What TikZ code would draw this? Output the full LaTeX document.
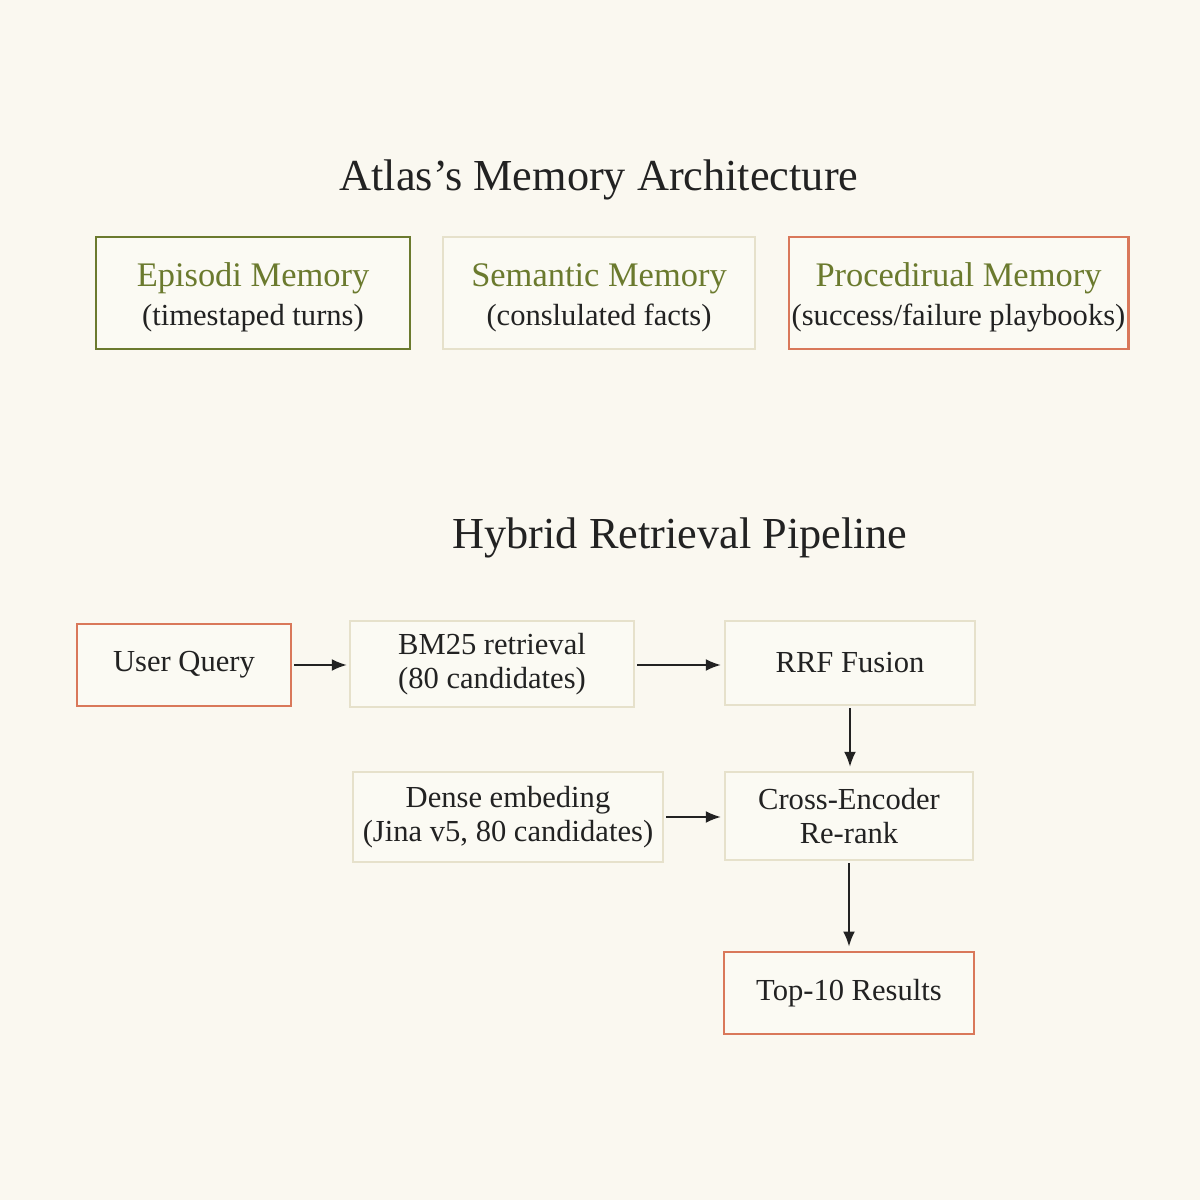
\documentclass[tikz,border=0pt]{standalone}
\usepackage{fontspec}
\setmainfont{Liberation Serif}
\usetikzlibrary{arrows.meta, positioning}
\definecolor{paper}{HTML}{FAF8F0}
\definecolor{boxfill}{HTML}{FBFAF3}
\definecolor{olive}{HTML}{6B7A2E}
\definecolor{sand}{HTML}{E6E1CB}
\definecolor{rust}{HTML}{D9785A}
\definecolor{ink}{HTML}{222222}
\tikzset{
    mbox/.style={draw, fill=boxfill, inner sep=0pt, align=center, text=ink,
        font=\fontsize{8.7}{9.6}\selectfont},
    oliveframe/.style={mbox, draw=olive, line width=0.85pt},
    sandframe/.style={mbox, draw=sand, line width=0.7pt},
    rustframe/.style={mbox, draw=rust, line width=0.85pt},
    heading/.style={text=ink, font=\fontsize{12.6}{15}\selectfont},
    link/.style={draw=ink, line width=0.5pt, -{Latex[length=1.5mm, width=1.2mm]}},
}
\newcommand{\memhead}[1]{{\color{olive}\fontsize{9.8}{11}\selectfont\rule{0pt}{9.2pt}#1}}
\begin{document}
\begin{tikzpicture}
    \useasboundingbox[fill=paper] (0,0) rectangle (12,12);
    % memory tiers
    \node[heading] (archtitle) at (5.99,10.20) {Atlas’s Memory Architecture};
    \node[oliveframe, minimum width=3.14cm, minimum height=1.12cm] (episodic) at (2.53,9.07)
        {\memhead{Episodi Memory}\\[1.6pt](timestaped turns)};
    \node[sandframe, minimum width=3.12cm, minimum height=1.12cm] (semantic) at (5.99,9.07)
        {\memhead{Semantic Memory}\\[1.6pt](conslulated facts)};
    \node[rustframe, minimum width=3.39cm, minimum height=1.12cm] (procedural) at (9.585,9.07)
        {\memhead{Procedirual Memory}\\[1.6pt](success/failure playbooks)};
    % retrieval pipeline
    \node[heading] (pipetitle) at (6.80,6.62) {Hybrid Retrieval Pipeline};
    \node[rustframe, minimum width=2.14cm, minimum height=0.82cm] (query) at (1.84,5.35) {User Query};
    \node[sandframe, minimum width=2.84cm, minimum height=0.86cm] (bm25) at (4.92,5.36)
        {BM25 retrieval\\(80 candidates)};
    \node[sandframe, minimum width=2.50cm, minimum height=0.84cm] (rrf) at (8.50,5.37) {RRF Fusion};
    \node[sandframe, minimum width=3.10cm, minimum height=0.90cm] (dense) at (5.08,3.83)
        {Dense embeding\\(Jina v5, 80 candidates)};
    \node[sandframe, minimum width=2.48cm, minimum height=0.88cm] (rerank) at (8.49,3.84)
        {Cross-Encoder\\Re-rank};
    \node[rustframe, minimum width=2.50cm, minimum height=0.82cm] (topk) at (8.49,2.07) {Top-10 Results};
    \draw[link] ([xshift=0.2mm]query.east) -- ([xshift=-0.2mm]query.east -| bm25.west);
    \draw[link] ([xshift=0.2mm]bm25.east |- query.east) -- ([xshift=-0.3mm]bm25.east |- query.east -| rrf.west);
    \draw[link] ([yshift=-0.2mm]rrf.south) -- ([yshift=0.4mm]rrf.south |- rerank.north);
    \draw[link] ([xshift=0.2mm]dense.east) -- ([xshift=-0.3mm]dense.east -| rerank.west);
    \draw[link] ([yshift=-0.2mm]rerank.south) -- ([yshift=0.4mm]rerank.south |- topk.north);
\end{tikzpicture}
\end{document}
